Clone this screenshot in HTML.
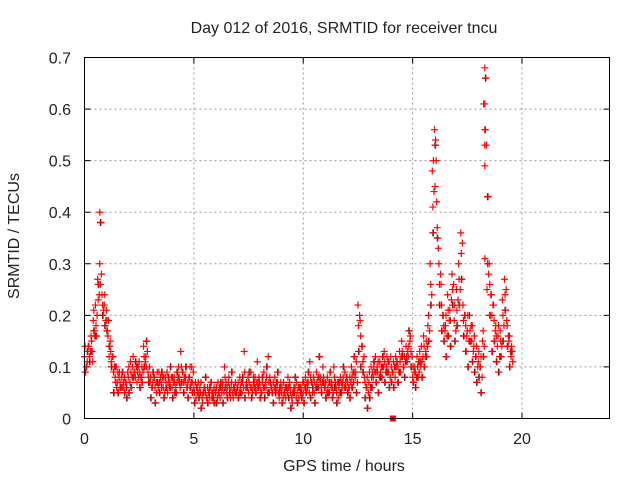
<!DOCTYPE html>
<html><head><meta charset="utf-8"><style>
html,body{margin:0;padding:0;background:#fff;}
svg{display:block;font-family:"Liberation Sans",sans-serif;}
</style></head><body>
<svg id="chart" width="640" height="480">
<text x="344" y="33" font-size="16" text-anchor="middle" fill="#222">Day 012 of 2016, SRMTID for receiver tncu</text>
<text x="344" y="471" font-size="16" text-anchor="middle" fill="#222">GPS time / hours</text>
<text transform="translate(19,236) rotate(-90)" font-size="16" text-anchor="middle" fill="#222">SRMTID / TECUs</text>
<g id="grid"></g><g id="ticks"></g><g id="marks"></g>
<rect x="84.5" y="57.5" width="525" height="361" fill="none" stroke="#000" stroke-width="1"/>
</svg>
<script>
const xTicks=[0,5,10,15,20];
const yTicks=[0,0.1,0.2,0.3,0.4,0.5,0.6,0.7];
const yTickLabels=["0","0.1","0.2","0.3","0.4","0.5","0.6","0.7"];
const times=[0.0,0.1,0.2,0.3,0.4,0.5,0.6,0.7,0.8,0.9,1.0,1.1,1.2,1.3,1.4,1.5,1.6,1.7,1.8,1.9,2.0,2.1,2.2,2.3,2.4,2.5,2.6,2.7,2.8,2.9,3.0,3.1,3.2,3.3,3.4,3.5,3.6,3.7,3.8,3.9,4.0,4.1,4.2,4.3,4.4,4.5,4.6,4.7,4.8,4.9,5.0,5.1,5.2,5.3,5.4,5.5,5.6,5.7,5.8,5.9,6.0,6.1,6.2,6.3,6.4,6.5,6.6,6.7,6.8,6.9,7.0,7.1,7.2,7.3,7.4,7.5,7.6,7.7,7.8,7.9,8.0,8.1,8.2,8.3,8.4,8.5,8.6,8.7,8.8,8.9,9.0,9.1,9.2,9.3,9.4,9.5,9.6,9.7,9.8,9.9,10.0,10.1,10.2,10.3,10.4,10.5,10.6,10.7,10.8,10.9,11.0,11.1,11.2,11.3,11.4,11.5,11.6,11.7,11.8,11.9,12.0,12.1,12.2,12.3,12.4,12.5,12.6,12.7,12.8,12.9,13.0,13.1,13.2,13.3,13.4,13.5,13.6,13.7,13.8,13.9,14.0,14.1,14.2,14.3,14.4,14.5,14.6,14.7,14.8,14.9,15.0,15.1,15.2,15.3,15.4,15.5,15.6,15.7,15.8,15.9,16.0,16.1,16.2,16.3,16.4,16.5,16.6,16.7,16.8,16.9,17.0,17.1,17.2,17.3,17.4,17.5,17.6,17.7,17.8,17.9,18.0,18.1,18.2,18.3,18.4,18.5,18.6,18.7,18.8,18.9,19.0,19.1,19.2,19.3,19.4,19.5];
const seriesA=[.12,.10,.14,.16,.19,.22,.27,.30,.24,.22, .21,.19,.13,.12,.08,.07,.09,.08,.06,.07, .08,.11,.10,.09,.07,.11,.08,.14,.12,.09, .07,.06,.08,.05,.09,.07,.06,.08,.05,.07, .06,.08,.05,.10,.13,.09,.07,.06,.08,.10, .06,.04,.07,.05,.03,.06,.04,.05,.07,.04, .05,.07,.04,.06,.10,.05,.08,.06,.04,.07, .06,.08,.05,.13,.07,.05,.09,.06,.08,.11, .07,.05,.09,.06,.12,.07,.05,.08,.06,.04, .05,.07,.04,.08,.06,.03,.05,.07,.04,.06, .05,.08,.06,.11,.07,.05,.09,.06,.08,.10, .06,.08,.05,.07,.10,.06,.04,.08,.07,.09, .08,.06,.10,.07,.09,.22,.19,.14,.08,.06, .07,.10,.08,.12,.09,.11,.08,.13,.10,.09, .12,.09,.08,.11,.13,.15,.10,.14,.12,.16, .08,.10,.12,.09,.14,.16,.13,.18,.30,.48, .56,.42,.30,.26,.20,.18,.24,.21,.28,.19, .25,.30,.36,.22,.20,.17,.20,.15,.14,.12, .11,.10,.15,.61,.25,.30,.24,.22,.18,.16, .17,.23,.27,.19,.15,.12];
const seriesB=[.09,.13,.11,.13,.17,.16,.26,.38,.20,.18, .17,.14,.10,.05,.10,.05,.06,.09,.05,.04, .05,.06,.08,.11,.10,.06,.07,.10,.15,.07, .04,.09,.03,.07,.05,.09,.04,.06,.08,.10, .04,.05,.09,.07,.07,.05,.10,.04,.06,.05, .03,.06,.04,.02,.05,.08,.03,.06,.04,.03, .03,.05,.07,.03,.06,.04,.05,.09,.06,.05, .04,.05,.08,.04,.06,.09,.04,.07,.05,.06, .04,.08,.04,.10,.05,.06,.03,.05,.09,.06, .03,.05,.06,.04,.02,.05,.08,.03,.06,.04, .03,.05,.09,.04,.06,.03,.06,.12,.05,.07, .04,.05,.09,.04,.06,.03,.07,.05,.10,.06, .05,.04,.06,.12,.05,.13,.10,.09,.04,.02, .04,.06,.11,.07,.05,.08,.12,.07,.09,.06, .07,.06,.10,.07,.09,.12,.08,.11,.17,.10, .07,.06,.08,.11,.08,.10,.12,.15,.22,.36, .53,.35,.22,.17,.15,.12,.16,.14,.22,.15, .18,.22,.27,.16,.13,.10,.15,.11,.09,.07, .08,.05,.12,.66,.43,.20,.13,.15,.11,.09, .12,.15,.21,.14,.10,.13];
const seriesC=[.14,.11,.12,.15,.21,.18,.23,.26,.22,.24, .19,.12,.11,.09,.07,.09,.07,.06,.08,.06, .10,.09,.12,.08,.09,.09,.10,.12,.10,.08, .08,.07,.06,.09,.07,.06,.08,.07,.07,.06, .08,.07,.07,.08,.10,.07,.08,.07,.10,.07, .05,.06,.05,.07,.05,.05,.06,.04,.05,.06, .06,.05,.06,.07,.08,.06,.06,.07,.06,.05, .07,.06,.07,.09,.06,.07,.06,.08,.06,.07, .06,.07,.06,.08,.07,.06,.07,.06,.07,.05, .06,.05,.06,.06,.05,.05,.06,.05,.06,.05, .07,.06,.07,.08,.05,.07,.07,.08,.06,.08, .07,.06,.07,.06,.08,.05,.06,.07,.08,.07, .07,.08,.08,.09,.11,.18,.16,.11,.07,.08, .09,.08,.10,.09,.11,.09,.10,.11,.12,.11, .10,.11,.12,.10,.11,.13,.12,.12,.14,.13, .10,.09,.10,.13,.11,.14,.15,.20,.26,.41, .45,.37,.26,.22,.18,.20,.21,.19,.25,.22, .21,.27,.32,.19,.18,.20,.17,.18,.16,.14, .13,.12,.17,.56,.30,.26,.20,.19,.16,.18, .15,.20,.24,.18,.16,.14];
const seriesD=[.10,.14,.13,.11,.16,.20,.24,.28,.21,.19, .16,.15,.12,.10,.06,.08,.06,.07,.07,.09, .07,.08,.09,.10,.08,.08,.09,.11,.13,.10, .06,.08,.07,.06,.08,.08,.05,.09,.06,.08, .07,.06,.08,.06,.09,.08,.06,.08,.07,.09, .07,.05,.06,.04,.06,.04,.05,.07,.05,.05, .04,.06,.05,.05,.07,.07,.04,.05,.05,.06, .05,.07,.06,.06,.08,.06,.05,.06,.07,.08, .05,.06,.07,.05,.08,.05,.06,.07,.05,.07, .04,.06,.05,.07,.04,.06,.04,.06,.05,.07, .06,.07,.05,.07,.08,.06,.08,.07,.07,.06, .05,.07,.06,.05,.07,.07,.05,.06,.06,.08, .06,.07,.09,.08,.07,.20,.14,.12,.06,.05, .06,.09,.09,.10,.08,.10,.10,.09,.11,.08, .09,.10,.11,.09,.12,.10,.11,.13,.15,.12, .09,.08,.11,.10,.12,.12,.14,.17,.24,.44, .50,.33,.28,.20,.17,.16,.19,.23,.26,.17, .23,.25,.34,.20,.16,.15,.18,.13,.12,.10, .10,.08,.14,.53,.28,.24,.22,.17,.14,.12, .14,.18,.25,.16,.13,.11];
const extraTimes=[18.3,18.3,18.3,18.3,18.3,18.25,0.7,15.95,16.05];
const extraValues=[.68,.56,.53,.49,.31,.61,.40,.50,.54];
const markerTimes=[14.1];
const markerValues=[0];

const X=t=>84.5+t*(525/24);
const Y=v=>418.5-v*(361/0.7);
const NS="http://www.w3.org/2000/svg";
function mk(tag,attrs,parent){const e=document.createElementNS(NS,tag);for(const k in attrs)e.setAttribute(k,attrs[k]);parent.appendChild(e);return e;}
const grid=document.getElementById('grid'),ticks=document.getElementById('ticks'),marks=document.getElementById('marks');
xTicks.forEach(t=>{
  const x=X(t);
  if(t>0){const g=mk('line',{x1:x,x2:x,y1:57.5,y2:418.5,stroke:'#999','stroke-dasharray':'2,3'},grid);
  
  }
  const tk=mk('path',{d:`M${x},418.5v-6M${x},57.5v6`,stroke:'#000'},ticks);
  
  
  const lb=mk('text',{x:x,y:444,'font-size':16,'text-anchor':'middle',fill:'#222'},ticks);lb.textContent=String(t);
  
  
});
yTicks.forEach((v,i)=>{
  const y=Y(v);
  if(v>0&&v<0.7){const g=mk('line',{x1:84.5,x2:609.5,y1:y,y2:y,stroke:'#999','stroke-dasharray':'2,3'},grid);
  
  }
  const tk=mk('path',{d:`M84.5,${y}h6M609.5,${y}h-6`,stroke:'#000'},ticks);
  
  
  const lb=mk('text',{x:71,y:y+6,'font-size':16,'text-anchor':'end',fill:'#222'},ticks);lb.textContent=yTickLabels[i];
  
  
});
function plus(t,v,color,name){
  const x=X(t),y=Y(v);
  const p=mk('path',{d:`M${x-3.5},${y}h7M${x},${y-3.5}v7`,stroke:color,'stroke-width':1.2},marks);
  
  
}
times.forEach((t,i)=>plus(t+0.03,seriesB[i],'#000','point-black'));
times.forEach((t,i)=>plus(t,seriesA[i],'#f00','point-a'));
times.forEach((t,i)=>plus(t+0.05,seriesB[i],'#f00','point-b'));
times.forEach((t,i)=>plus(t+0.025,seriesC[i],'#f00','point-c'));
times.forEach((t,i)=>plus(t+0.075,seriesD[i],'#f00','point-d'));
extraTimes.forEach((t,i)=>plus(t,extraValues[i],'#f00','point-extra'));
markerTimes.forEach((t,i)=>{
  const r=mk('rect',{x:X(t)-3,y:Y(markerValues[i])-3,width:6,height:6,fill:'#f00'},marks);
  
  
});
</script>
</body></html>
